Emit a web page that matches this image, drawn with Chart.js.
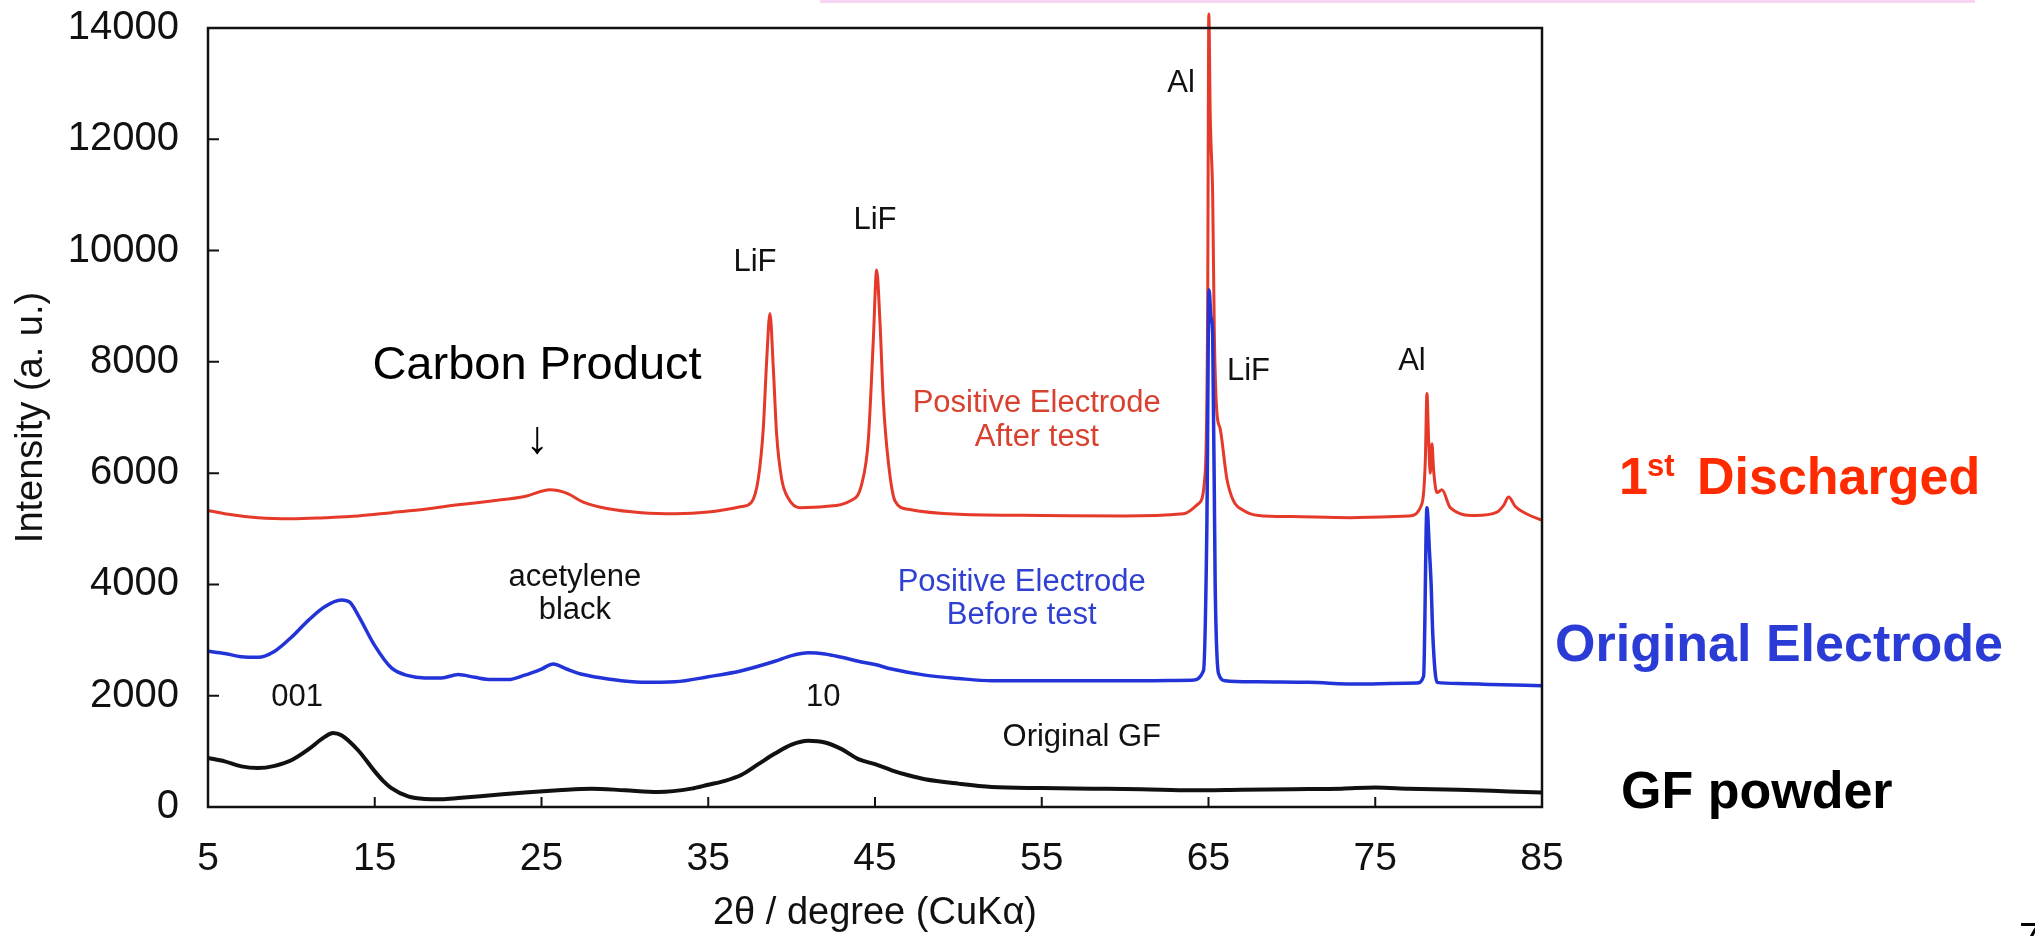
<!DOCTYPE html>
<html>
<head>
<meta charset="utf-8">
<title>XRD patterns</title>
<script src="https://cdn.jsdelivr.net/npm/chart.js@4.4.1/dist/chart.umd.min.js"></script>
<style>
  html, body { margin: 0; padding: 0; background: #fff; }
  #wrap { position: relative; width: 2035px; height: 936px; }
</style>
</head>
<body>
<div id="wrap"><canvas id="xrdChart"></canvas></div>
<script>
// values (2theta in degree, intensity in a.u.)
const gfX = [5, 6, 7, 8, 9, 10, 11, 12, 12.5, 13, 14, 15, 15.5, 16, 17, 18, 19, 20, 22, 24, 26, 28, 30, 32, 34, 35, 36, 37, 38, 39, 40, 41, 42, 43, 44, 45, 46, 47, 48, 50, 52, 55, 58, 61, 64, 67, 70, 73, 75, 77, 80, 83, 85];
const gfY = [880, 820, 730, 700, 740, 840, 1030, 1260, 1330, 1290, 1020, 640, 470, 340, 190, 145, 140, 160, 210, 260, 300, 330, 300, 270, 330, 400, 470, 580, 770, 960, 1120, 1190, 1160, 1040, 860, 770, 660, 570, 500, 420, 360, 340, 330, 320, 300, 310, 320, 330, 350, 330, 310, 280, 260];

const origX = [5, 6, 7, 8, 9, 10, 11, 12, 13, 13.5, 14, 15, 16, 17, 18, 19, 20, 21, 22, 23, 24, 25, 25.7, 26.5, 27.5, 29, 31, 33, 35, 37, 39, 40, 41, 42, 43, 44, 45, 46, 48, 50, 52, 55, 58, 61, 64, 64.7, 64.9, 65.03, 65.15, 65.25, 65.4, 65.6, 66, 68, 71, 74, 77.5, 77.9, 78.1, 78.25, 78.35, 78.45, 78.7, 80, 82, 85];
const origY = [2800, 2760, 2700, 2690, 2800, 3050, 3350, 3600, 3720, 3680, 3450, 2900, 2500, 2360, 2320, 2320, 2380, 2330, 2290, 2290, 2370, 2480, 2570, 2480, 2380, 2300, 2240, 2250, 2340, 2450, 2620, 2720, 2770, 2750, 2690, 2620, 2560, 2480, 2370, 2310, 2270, 2270, 2270, 2270, 2280, 2450, 5000, 9290, 8800, 8500, 4000, 2400, 2270, 2250, 2240, 2210, 2230, 2350, 5380, 4600, 4010, 3100, 2240, 2220, 2200, 2180];

const dischX = [5, 6, 8, 10, 12, 14, 16, 18, 20, 22, 24, 25.5, 26.5, 27.5, 29, 31, 33, 35, 37, 37.6, 38.0, 38.3, 38.5, 38.7, 38.9, 39.1, 39.4, 39.8, 40.5, 42, 43.5, 44.2, 44.6, 44.9, 45.1, 45.3, 45.5, 45.8, 46.2, 47, 50, 55, 60, 63.5, 64.4, 64.8, 64.95, 65.02, 65.1, 65.15, 65.25, 65.35, 65.5, 65.7, 66.1, 66.5, 67.1, 68, 70, 73.5, 77, 77.8, 78.0, 78.1, 78.2, 78.3, 78.4, 78.5, 78.7, 79, 79.5, 81, 82.3, 82.7, 83.0, 83.4, 84, 85];
const dischY = [5330, 5270, 5200, 5180, 5200, 5230, 5290, 5350, 5430, 5500, 5580, 5700, 5640, 5480, 5360, 5290, 5270, 5300, 5400, 5480, 5900, 6800, 8000, 8870, 7900, 6700, 5900, 5550, 5380, 5400, 5500, 5800, 6600, 8400, 9650, 8700, 7300, 6200, 5500, 5350, 5260, 5240, 5230, 5270, 5450, 6000, 9000, 14250, 12500, 11930, 11000, 8500, 7100, 6800, 5900, 5500, 5330, 5240, 5220, 5200, 5230, 5450, 6200, 7430, 6600, 6000, 6530, 6050, 5650, 5700, 5380, 5240, 5300, 5420, 5570, 5400, 5280, 5150];

const xTicks = [5, 15, 25, 35, 45, 55, 65, 75, 85];
const yTicks = [0, 2000, 4000, 6000, 8000, 10000, 12000, 14000];

// labels placed in data units
const notesInPlot = [
  { text: 'Al', x: 63.35, y: 13010, size: 31, color: '#111' },
  { text: 'LiF', x: 37.8, y: 9795, size: 31, color: '#111' },
  { text: 'LiF', x: 45.0, y: 10550, size: 31, color: '#111' },
  { text: 'LiF', x: 67.4, y: 7820, size: 31, color: '#111' },
  { text: 'Al', x: 77.2, y: 8000, size: 31, color: '#111' },
  { text: 'Carbon Product', x: 24.73, y: 7926, size: 47, color: '#000' },
  { text: '\u2193', x: 24.73, y: 6596, size: 46, color: '#000' },
  { text: 'Positive Electrode', x: 54.7, y: 7261, size: 31, color: '#d8402f' },
  { text: 'After test', x: 54.7, y: 6650, size: 31, color: '#d8402f' },
  { text: 'Positive Electrode', x: 53.8, y: 4044, size: 31, color: '#3040d0' },
  { text: 'Before test', x: 53.8, y: 3451, size: 31, color: '#3040d0' },
  { text: 'acetylene', x: 27.0, y: 4134, size: 31, color: '#111' },
  { text: 'black', x: 27.0, y: 3541, size: 31, color: '#111' },
  { text: '001', x: 10.34, y: 1977, size: 31, color: '#111' },
  { text: '10', x: 41.9, y: 1977, size: 31, color: '#111' },
  { text: 'Original GF', x: 57.4, y: 1258, size: 31, color: '#111' }
];

const FONT = "'Liberation Sans', Arial, Helvetica, sans-serif";

function toPoints(xs, ys) {
  return xs.map((x, i) => ({ x: x, y: ys[i] }));
}

const framePlugin = {
  id: 'frame',
  afterDatasetsDraw(chart) {
    const { ctx, chartArea: a, scales: { x, y } } = chart;
    ctx.save();
    ctx.strokeStyle = '#111';
    ctx.lineWidth = 2.5;
    ctx.strokeRect(a.left, a.top, a.right - a.left, a.bottom - a.top);
    ctx.lineWidth = 2;
    ctx.beginPath();
    for (const t of x.ticks) {
      const px = x.getPixelForValue(t.value);
      ctx.moveTo(px, a.bottom);
      ctx.lineTo(px, a.bottom - 10);
    }
    for (const t of y.ticks) {
      const py = y.getPixelForValue(t.value);
      ctx.moveTo(a.left, py);
      ctx.lineTo(a.left + 11, py);
    }
    ctx.stroke();
    ctx.restore();
  }
};

const notesPlugin = {
  id: 'notes',
  afterDraw(chart) {
    const { ctx, scales: { x, y } } = chart;
    ctx.save();
    ctx.textAlign = 'center';
    ctx.textBaseline = 'middle';
    for (const n of notesInPlot) {
      ctx.font = n.size + 'px ' + FONT;
      ctx.fillStyle = n.color;
      ctx.fillText(n.text, x.getPixelForValue(n.x), y.getPixelForValue(n.y));
    }

    // sample names on the right
    ctx.textAlign = 'left';
    ctx.textBaseline = 'alphabetic';
    ctx.fillStyle = '#ff2a00';
    ctx.font = 'bold 52px ' + FONT;
    ctx.fillText('1', 1619, 494);
    ctx.font = 'bold 31px ' + FONT;
    ctx.fillText('st', 1647, 476);
    ctx.font = 'bold 52px ' + FONT;
    ctx.fillText('Discharged', 1697, 494);
    ctx.fillStyle = '#2b3bd6';
    ctx.fillText('Original Electrode', 1555, 661);
    ctx.fillStyle = '#000';
    ctx.fillText('GF powder', 1621, 808);

    // slide leftovers: pink strip and page number
    ctx.fillStyle = '#f8d6f3';
    ctx.fillRect(820, 0, 1155, 3);
    ctx.fillStyle = '#000';
    ctx.font = '40px ' + FONT;
    ctx.fillText('7', 2019, 951);
    ctx.restore();
  }
};

const myChart = new Chart(document.getElementById('xrdChart'), {
  type: 'line',
  data: {
    datasets: [
      { label: 'Original Electrode', data: toPoints(origX, origY), borderColor: '#2233d8', borderWidth: 3.5 },
      { label: '1st Discharged', data: toPoints(dischX, dischY), borderColor: '#e5392a', borderWidth: 3, clip: false },
      { label: 'GF powder', data: toPoints(gfX, gfY), borderColor: '#111', borderWidth: 4 }
    ]
  },
  options: {
    responsive: true,
    maintainAspectRatio: false,
    animation: false,
    elements: {
      point: { radius: 0 },
      line: { cubicInterpolationMode: 'monotone', fill: false }
    },
    layout: { padding: { top: 28, right: 493, bottom: 0, left: 0 } },
    plugins: { legend: { display: false }, tooltip: { enabled: false } },
    scales: {
      x: {
        type: 'linear',
        min: 5,
        max: 85,
        afterBuildTicks: s => { s.ticks = xTicks.map(v => ({ value: v })); },
        afterFit: s => { s.height = 129; s.paddingLeft = 0; s.paddingRight = 0; },
        grid: { display: false, drawTicks: false },
        border: { display: false },
        ticks: { color: '#111', padding: 29, maxRotation: 0, autoSkip: false, font: { family: FONT, size: 39 }, callback: v => String(v) },
        title: { display: true, text: '2\u03b8 / degree (CuK\u03b1)', color: '#111', padding: { top: 0, bottom: 0 }, font: { family: FONT, size: 38 } }
      },
      y: {
        type: 'linear',
        min: 0,
        max: 14000,
        afterBuildTicks: s => { s.ticks = yTicks.map(v => ({ value: v })); },
        afterFit: s => { s.width = 208; s.paddingTop = 0; s.paddingBottom = 0; },
        grid: { display: false, drawTicks: false },
        border: { display: false },
        ticks: { color: '#111', padding: 29, autoSkip: false, font: { family: FONT, size: 40 }, callback: v => String(v) },
        title: { display: true, text: 'Intensity (a. u.)', color: '#111', padding: { top: 9, bottom: 0 }, font: { family: FONT, size: 38 } }
      }
    }
  },
  plugins: [framePlugin, notesPlugin]
});
</script>
</body>
</html>
